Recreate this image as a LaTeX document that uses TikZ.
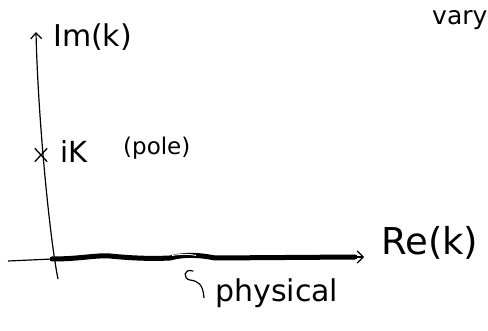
\documentclass[tikz,border=0pt]{standalone}
\usepackage{fontspec}
\setmainfont{DejaVu Sans}
\usetikzlibrary{arrows.meta,shapes.misc}
\begin{document}
\begin{tikzpicture}[x=1pt,y=-1pt,
  lbl/.style={inner sep=0pt, anchor=base west},
  axis/.style={line width=1.2pt, -{Straight Barb[length=6pt,width=11pt,line width=1.2pt]}},
  thickax/.style={line width=5pt, line cap=round}]
\useasboundingbox (0,0) rectangle (488,331);
% coordinates
\coordinate (vbot) at (58,279);
\coordinate (vtop) at (36,32);
\coordinate (hleft) at (8,261);
\coordinate (origin) at (52,259);
\coordinate (htip) at (364,257);
% axes
\draw[axis] (vbot) .. controls (50,240) and (38,120) .. (vtop);
\draw[line width=1.2pt] (hleft) -- (origin);
\draw[thickax] (origin) .. controls (80,259) and (95,255) .. (110,256)
   .. controls (130,258) and (150,259) .. (170,258)
   .. controls (185,254) and (200,255) .. (215,258)
   -- (355,257);
\draw[line width=1.2pt, -{Straight Barb[length=6pt,width=12pt,line width=1.2pt]}] (350,257) -- (htip);
\draw[white, line width=0.9pt] (172,255.5) .. controls (180,254) and (190,254) .. (196,255.5);
% labels
\node[lbl, font=\fontsize{30}{30}\selectfont] (im) at (53,47) {Im(k)};
\node[lbl, font=\fontsize{37}{37}\selectfont] (re) at (381,255) {Re(k)};
\node[draw, cross out, line width=1.3pt, minimum width=11pt, minimum height=12pt, inner sep=0pt] (pole) at (41,155) {};
\node[lbl, font=\fontsize{29}{29}\selectfont] (ik) at (60,163) {iK};
\node[lbl, font=\fontsize{23}{23}\selectfont] (pl) at (123,155) {(pole)};
\node[lbl, font=\fontsize{30}{30}\selectfont] (phys) at (215,302) {physical};
\node[lbl, font=\fontsize{25}{25}\selectfont] (vary) at (432,25) {vary};
\coordinate (hookend) at (193,271);
\draw[line width=1.2pt, line cap=round] (phys.west) ++(-11,4) .. controls (203,284) and (198,281) .. (190,280)
   .. controls (183,279) and (183,268) .. (hookend);
\end{tikzpicture}
\end{document}
